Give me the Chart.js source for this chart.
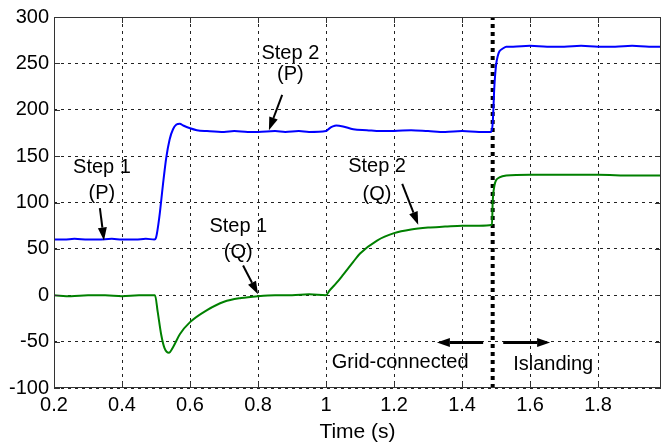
<!DOCTYPE html>
<html>
<head>
<meta charset="utf-8">
<script src="https://cdn.jsdelivr.net/npm/chart.js@4.4.1/dist/chart.umd.min.js"></script>
<style>
  html, body { margin: 0; padding: 0; background: #fff; }
  #wrap { width: 663px; height: 444px; }
</style>
</head>
<body>
<div id="wrap"><canvas id="powerChart"></canvas></div>
<script>
// Active power P (blue)
const timeP = [0.2, 0.23, 0.26, 0.3, 0.33, 0.37, 0.4, 0.44, 0.47, 0.495, 0.5, 0.51, 0.52, 0.53, 0.54,
  0.55, 0.56, 0.57, 0.58, 0.6, 0.62, 0.65, 0.7, 0.73, 0.77, 0.8, 0.85, 0.88, 0.92, 0.95, 1.0,
  1.01, 1.02, 1.03, 1.05, 1.08, 1.12, 1.16, 1.2, 1.25, 1.3, 1.35, 1.4, 1.45, 1.485, 1.49, 1.495,
  1.5, 1.505, 1.51, 1.52, 1.53, 1.55, 1.6, 1.65, 1.7, 1.75, 1.8, 1.85, 1.9, 1.95, 1.985];
const valuesP = [60, 60, 61, 60, 60, 61, 60, 60, 61, 60, 62, 85, 118, 148, 168,
  179, 184, 185, 183, 180, 178, 177, 176, 177, 176, 176, 177, 176, 177, 176, 177,
  180, 182, 183, 182, 179, 178, 177, 177, 178, 177, 176, 177, 176, 176, 185, 225,
  248, 258, 263, 266, 268, 268, 269, 268, 268, 269, 268, 268, 269, 268, 268];

// Reactive power Q (green)
const timeQ = [0.2, 0.25, 0.3, 0.35, 0.4, 0.45, 0.497, 0.505, 0.515, 0.525, 0.538, 0.55, 0.57, 0.6,
  0.65, 0.7, 0.75, 0.8, 0.85, 0.9, 0.95, 1.0, 1.01, 1.03, 1.05, 1.08, 1.1, 1.15, 1.2, 1.25, 1.3,
  1.35, 1.4, 1.45, 1.488, 1.49, 1.495, 1.5, 1.51, 1.53, 1.6, 1.7, 1.8, 1.9, 1.985];
const valuesQ = [0, -1, 0, 0, -1, 0, 0, -18, -42, -57, -62, -56, -42, -29,
  -16, -7, -3, -1, 0, 0, 1, 0, 5, 13, 22, 36, 45, 59, 67, 71, 73,
  74, 75, 75, 76, 100, 118, 124, 127, 129, 130, 130, 130, 129, 129];

// Instant the grid is disconnected
const islandTime = 1.49;

const xTicks = [0.2, 0.4, 0.6, 0.8, 1.0, 1.2, 1.4, 1.6, 1.8];
const yTicks = [-100, -50, 0, 50, 100, 150, 200, 250, 300];

// Callouts, in data coordinates
const callouts = [
  { text: ['Step 1', '(P)'], tx: 0.341, ty: [138, 110], from: [0.335, 94], to: [0.347, 59] },
  { text: ['Step 2', '(P)'], tx: 0.895, ty: [261, 238], from: [0.871, 216], to: [0.832, 178] },
  { text: ['Step 1', '(Q)'], tx: 0.742, ty: [74, 46], from: [0.756, 32], to: [0.8, 1] },
  { text: ['Step 2', '(Q)'], tx: 1.15, ty: [139, 109], from: [1.224, 120], to: [1.271, 76] }
];
const modeLabels = [
  { text: 'Grid-connected', tx: 1.218, ty: -73, from: [1.462, -51], to: [1.326, -51] },
  { text: 'Islanding', tx: 1.668, ty: -75, from: [1.521, -51], to: [1.659, -51] }
];

const FONT = "'Liberation Sans', Arial, sans-serif";

function pairs(xs, ys) {
  return xs.map((x, i) => ({ x: x, y: ys[i] }));
}

function arrow(ctx, x1, y1, x2, y2) {
  const ang = Math.atan2(y2 - y1, x2 - x1);
  const len = 13, half = 4.5;
  const bx = x2 - len * Math.cos(ang), by = y2 - len * Math.sin(ang);
  ctx.beginPath();
  ctx.moveTo(x1, y1);
  ctx.lineTo(bx, by);
  ctx.stroke();
  ctx.beginPath();
  ctx.moveTo(x2, y2);
  ctx.lineTo(bx + half * Math.sin(ang), by - half * Math.cos(ang));
  ctx.lineTo(bx - half * Math.sin(ang), by + half * Math.cos(ang));
  ctx.closePath();
  ctx.fill();
}

const decorations = {
  id: 'decorations',
  afterDatasetsDraw(chart) {
    const ctx = chart.ctx;
    const xs = chart.scales.x, ys = chart.scales.y;
    const a = chart.chartArea;
    ctx.save();
    ctx.fillStyle = '#000';
    ctx.strokeStyle = '#000';
    ctx.lineWidth = 2;
    ctx.font = '20px ' + FONT;
    ctx.textAlign = 'center';
    ctx.textBaseline = 'middle';
    callouts.forEach((c) => {
      c.text.forEach((t, i) => ctx.fillText(t, xs.getPixelForValue(c.tx), ys.getPixelForValue(c.ty[i])));
      arrow(ctx, xs.getPixelForValue(c.from[0]), ys.getPixelForValue(c.from[1]),
        xs.getPixelForValue(c.to[0]), ys.getPixelForValue(c.to[1]));
    });
    ctx.lineWidth = 3;
    modeLabels.forEach((m) => {
      ctx.fillText(m.text, xs.getPixelForValue(m.tx), ys.getPixelForValue(m.ty));
      arrow(ctx, xs.getPixelForValue(m.from[0]), ys.getPixelForValue(m.from[1]),
        xs.getPixelForValue(m.to[0]), ys.getPixelForValue(m.to[1]));
    });

    // axes box with inward ticks
    ctx.lineWidth = 1;
    ctx.strokeStyle = '#333';
    ctx.strokeRect(a.left + 0.5, a.top + 0.5, a.right - a.left - 1, a.bottom - a.top - 1);
    ctx.beginPath();
    xTicks.forEach((v) => {
      const px = Math.round(xs.getPixelForValue(v)) + 0.5;
      ctx.moveTo(px, a.bottom); ctx.lineTo(px, a.bottom - 6);
      ctx.moveTo(px, a.top); ctx.lineTo(px, a.top + 6);
    });
    yTicks.forEach((v) => {
      const py = Math.round(ys.getPixelForValue(v)) + 0.5;
      ctx.moveTo(a.left, py); ctx.lineTo(a.left + 6, py);
      ctx.moveTo(a.right, py); ctx.lineTo(a.right - 6, py);
    });
    ctx.stroke();
    ctx.restore();
  }
};

new Chart(document.getElementById('powerChart'), {
  type: 'line',
  data: {
    datasets: [
      {
        label: 'P',
        data: pairs(timeP, valuesP),
        borderColor: '#0000ff',
        borderWidth: 2,
        pointRadius: 0,
        cubicInterpolationMode: 'monotone'
      },
      {
        label: 'Q',
        data: pairs(timeQ, valuesQ),
        borderColor: '#008000',
        borderWidth: 2,
        pointRadius: 0,
        cubicInterpolationMode: 'monotone'
      },
      {
        label: 'islanding',
        data: [{ x: islandTime, y: -100 }, { x: islandTime, y: 300 }],
        borderColor: '#000',
        borderWidth: 4,
        borderDash: [4, 4],
        borderCapStyle: 'butt',
        pointRadius: 0
      }
    ]
  },
  options: {
    responsive: true,
    maintainAspectRatio: false,
    animation: false,
    devicePixelRatio: 1,
    layout: { padding: { top: 15, right: 2, left: 0, bottom: 0 } },
    plugins: {
      legend: { display: false },
      tooltip: { enabled: false }
    },
    scales: {
      x: {
        type: 'linear',
        min: 0.2,
        max: 1.985,
        afterBuildTicks: (s) => { s.ticks = xTicks.map((v) => ({ value: v })); },
        afterFit: (s) => { s.height = 56; },
        ticks: {
          color: '#000',
          padding: 5,
          font: { family: FONT, size: 20 },
          maxRotation: 0,
          callback: (v) => String(Number(v.toFixed(1)))
        },
        grid: { color: '#222', lineWidth: 1, drawTicks: false },
        border: { display: false, dash: [3, 4] },
        title: {
          display: true,
          text: 'Time (s)',
          color: '#000',
          font: { family: FONT, size: 21 },
          padding: { top: 0, bottom: -1 }
        }
      },
      y: {
        min: -100,
        max: 300,
        afterBuildTicks: (s) => { s.ticks = yTicks.map((v) => ({ value: v })); },
        afterFit: (s) => { s.width = 54; },
        ticks: {
          color: '#000',
          padding: 5,
          font: { family: FONT, size: 20 }
        },
        grid: { color: '#222', lineWidth: 1, drawTicks: false },
        border: { display: false, dash: [3, 4] }
      }
    }
  },
  plugins: [decorations]
});
</script>
</body>
</html>
